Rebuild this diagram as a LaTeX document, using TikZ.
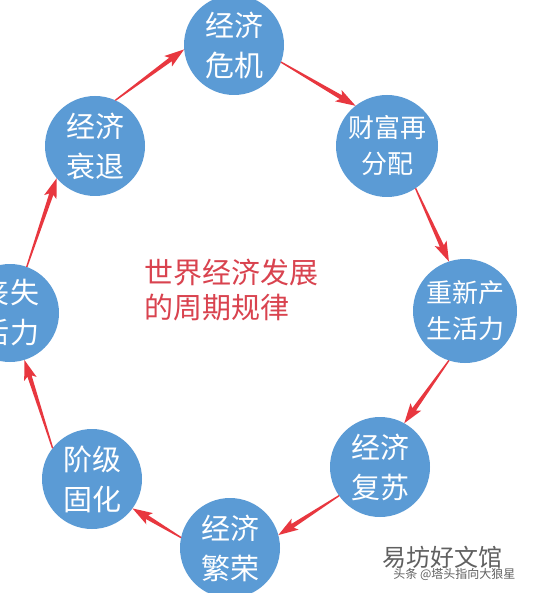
\documentclass[tikz,border=0pt]{standalone}
\usepackage{fontspec}
\setmainfont{Noto Sans CJK SC}
\usetikzlibrary{arrows.meta,calc}
\definecolor{cblue}{HTML}{5B9BD5}
\definecolor{arrred}{HTML}{E8373F}
\definecolor{titred}{HTML}{D9434F}
\definecolor{wmgray}{HTML}{606060}
\tikzset{
  circ/.style={circle, fill=cblue, draw=none, inner sep=0pt, outer sep=0pt,
    minimum size=100pt, text=white, align=center},
  two/.style={font=\fontsize{29}{40}\selectfont},
  three/.style={font=\fontsize{26}{36}\selectfont},
  arr/.style={fill=arrred, draw=none, to path={
    let \p1=(\tikztostart), \p2=(\tikztotarget),
        \n1={atan2(\y2-\y1,\x2-\x1)} in
    ($(\p1)+(\n1+90:0.7pt)$)
    -- ($(\p2)+(\n1+180:17pt)+(\n1+90:2.2pt)$)
    -- ($(\p2)+(\n1+180:20pt)+(\n1+90:6.5pt)$)
    -- (\p2)
    -- ($(\p2)+(\n1+180:20pt)+(\n1-90:6.5pt)$)
    -- ($(\p2)+(\n1+180:17pt)+(\n1-90:2.2pt)$)
    -- ($(\p1)+(\n1-90:0.7pt)$) -- cycle}},
}
\begin{document}
\begin{tikzpicture}[x=1pt,y=-1pt]
\useasboundingbox (0,0) rectangle (533,593);
\fill[white] (0,0) rectangle (533,593);
\node[circ,two]   (A) at (234,45)  {经济\\危机};
\node[circ,three,minimum size=102pt] (B) at (387,146) {财富再\\分配};
\node[circ,three,minimum size=104pt] (C) at (465,311) {重新产\\生活力};
\node[circ,two]   (D) at (380,467) {经济\\复苏};
\node[circ,two]   (E) at (230,548) {经济\\繁荣};
\node[circ,two]   (F) at (92,479)  {阶级\\固化};
\node[circ,two,minimum size=98pt] (G) at (10,313) {丧失\\活力};
\node[circ,two]   (H) at (95,146)  {经济\\衰退};
\node[text=titred, align=left, anchor=west, font=\fontsize{29}{35}\selectfont] (T) at (141,290) {世界经济发展\\的周期规律};
\node[text=wmgray, anchor=east, font=\fontsize{24}{26}\selectfont] (W1) at (506,557) {易坊好文馆};
\node[text=wmgray, anchor=east, font=\fontsize{12}{14}\selectfont] (W2) at (519,574) {头条 @塔头指向大狼星};
\fill[arr] (H.66)  to (A.185);
\fill[arr] (A.340) to (B.128);
\fill[arr] (B.304) to (C.108);
\fill[arr] (C.252) to (D.61);
\fill[arr] (D.215) to (E.15);
\fill[arr] (E.168) to (F.324);
\fill[arr] (F.142) to (G.287);
\fill[arr] (G.70)  to (H.220);
\end{tikzpicture}
\end{document}
